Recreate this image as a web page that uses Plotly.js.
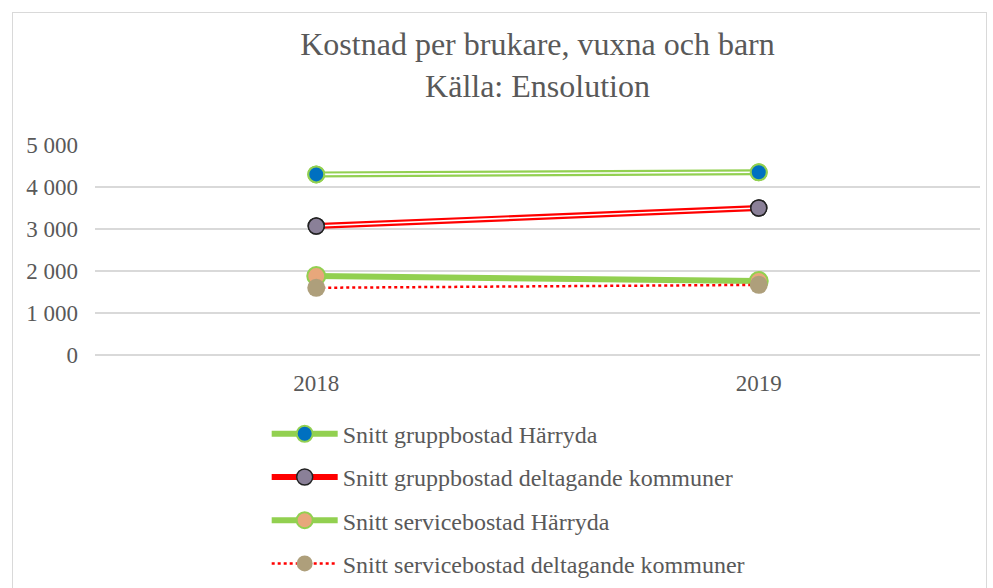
<!DOCTYPE html>
<html>
<head>
<meta charset="utf-8">
<script src="https://cdn.plot.ly/plotly-3.0.1.min.js"></script>
<style>
html,body{margin:0;padding:0;background:#fff;}
#wrap{position:relative;width:993px;height:588px;overflow:hidden;}
#chart{position:absolute;left:0;top:0;width:993px;height:588px;}
#frame{position:absolute;left:12px;top:12px;width:973px;height:600px;border:1px solid #d9d9d9;pointer-events:none;}
</style>
</head>
<body>
<div id="wrap"><div id="chart"></div><div id="frame"></div></div>
<script>
const years = ["2018", "2019"];
const gruppHarryda = [4300, 4350];
const gruppDeltagande = [3070, 3500];
const serviceHarryda = [1880, 1760];
const serviceDeltagande = [1600, 1670];
const names = [
  "Snitt gruppbostad Härryda",
  "Snitt gruppbostad deltagande kommuner",
  "Snitt servicebostad Härryda",
  "Snitt servicebostad deltagande kommuner"
];

const green = "#92D050";
const traces = [];

// Series 1: double green line, blue marker with green border
traces.push({x: years, y: gruppHarryda, name: names[0], legendgroup: "g1", mode: "lines+markers",
  line: {color: green, width: 6}, marker: {size: 16, color: "#0070C0", line: {color: green, width: 2}}});
traces.push({x: years, y: gruppHarryda, legendgroup: "g1", showlegend: false, mode: "lines",
  line: {color: "#ffffff", width: 1.6}, hoverinfo: "skip"});
traces.push({x: years, y: gruppHarryda, legendgroup: "g1", showlegend: false, mode: "markers",
  marker: {size: 16, color: "#0070C0", line: {color: green, width: 2}}, hoverinfo: "skip"});

// Series 2: double red line, grey-purple marker with dark border
traces.push({x: years, y: gruppDeltagande, name: names[1], legendgroup: "g2", mode: "lines+markers",
  line: {color: "#FF0000", width: 6}, marker: {size: 16, color: "#8A8098", line: {color: "#222222", width: 1.5}}});
traces.push({x: years, y: gruppDeltagande, legendgroup: "g2", showlegend: false, mode: "lines",
  line: {color: "#ffffff", width: 1.6}, hoverinfo: "skip"});
traces.push({x: years, y: gruppDeltagande, legendgroup: "g2", showlegend: false, mode: "markers",
  marker: {size: 16, color: "#8A8098", line: {color: "#222222", width: 1.5}}, hoverinfo: "skip"});

// Series 3: thick green line, peach marker with green border
traces.push({x: years, y: serviceHarryda, name: names[2], legendgroup: "g3", mode: "lines+markers",
  line: {color: green, width: 6}, marker: {size: 18, color: "#E8A77B", line: {color: green, width: 2}}});

// Series 4: red dotted line, tan marker
traces.push({x: years, y: serviceDeltagande, name: names[3], legendgroup: "g4", mode: "lines+markers",
  line: {color: "#FF0000", width: 2.5, dash: "dot"}, marker: {size: 18, color: "#AE9F7B"}});

const serif = "Liberation Serif, Times New Roman, serif";
const tickFont = {family: serif, size: 23, color: "#595959"};

const layout = {
  width: 993, height: 588,
  margin: {l: 95, r: 13, t: 145, b: 233, autoexpand: false},
  paper_bgcolor: "#ffffff", plot_bgcolor: "#ffffff",
  separators: ", ",
  title: {
    text: "Kostnad per brukare, vuxna och barn<br>Källa: Ensolution",
    font: {family: serif, size: 32, color: "#595959"},
    x: 0.5, xanchor: "center", xref: "paper",
    y: 1 - 55/588, yanchor: "top", yref: "container"
  },
  xaxis: {
    type: "category", range: [-0.5, 1.5], automargin: false,
    showgrid: false, showline: false, zeroline: false,
    ticks: "", tickfont: tickFont, ticklabelstandoff: 12
  },
  yaxis: {
    range: [0, 5000], dtick: 1000, tick0: 0, automargin: false,
    showgrid: true, gridcolor: "#d9d9d9", gridwidth: 1.3,
    zeroline: true, zerolinecolor: "#d9d9d9", zerolinewidth: 1.3,
    showline: false, ticks: "",
    tickformat: ",d", separatethousands: true,
    tickfont: tickFont, ticklabelstandoff: 16
  },
  showlegend: true,
  legend: {
    orientation: "v", x: 0.194, xanchor: "left", y: -0.27, yanchor: "top",
    font: {family: serif, size: 24, color: "#595959"}, bgcolor: "rgba(0,0,0,0)",
    tracegroupgap: 9, traceorder: "grouped", itemwidth: 66
  },
  hovermode: false
};

Plotly.newPlot("chart", traces, layout, {displayModeBar: false, staticPlot: true});
</script>
</body>
</html>
